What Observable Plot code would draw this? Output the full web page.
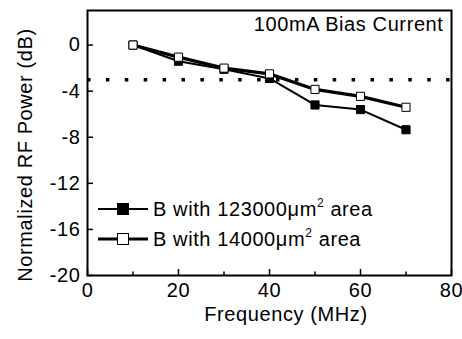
<!DOCTYPE html>
<html><head><meta charset="utf-8">
<script src="https://cdn.jsdelivr.net/npm/d3@7"></script>
<script src="https://cdn.jsdelivr.net/npm/@observablehq/plot@0.6"></script>
<style>
body{margin:0;background:#fff}
svg{font-family:"Liberation Sans",Arial,sans-serif}
</style>
</head><body><div id="chart"></div>
<script>
const freq = [10, 20, 30, 40, 50, 60, 70];
const seriesLarge = [0, -1.4, -2.1, -2.9, -5.2, -5.6, -7.35];   // 123000 um^2
const seriesSmall = [0, -1.05, -2.0, -2.5, -3.85, -4.45, -5.4]; // 14000 um^2
const areaValues = ["123000", "14000"];
const xTicks = [0, 20, 40, 60, 80];
const xMinorTicks = [10, 30, 50, 70];
const yTicks = [0, -4, -8, -12, -16, -20];
const thresholdDb = [-3];
const annotation = ["100mA Bias Current"];
const xLabel = "Frequency (MHz)";
const yLabel = "Normalized RF Power (dB)";

const W = 462, H = 339, mL = 87, mR = 11, mT = 10, mB = 64;
const frameW = W - mL - mR, frameH = H - mT - mB;

const dataLarge = freq.map((f, i) => ({f, v: seriesLarge[i]}));
const dataSmall = freq.map((f, i) => ({f, v: seriesSmall[i]}));

const plot = Plot.plot({
  width: W, height: H,
  marginLeft: mL, marginRight: mR, marginTop: mT, marginBottom: mB,
  style: {fontFamily: '"Liberation Sans", Arial, sans-serif', fontSize: "20px", background: "white", color: "black", letterSpacing: "0.6px"},
  x: {domain: [0, 80]},
  y: {domain: [-20, 3]},
  marks: [
    Plot.ruleY(thresholdDb, {stroke: "black", strokeWidth: 3.5, strokeDasharray: "3.5,15.4"}),
    Plot.line(dataLarge, {x: "f", y: "v", stroke: "black", strokeWidth: 2}),
    Plot.dot(dataLarge, {x: "f", y: "v", symbol: "square", r: 4.6, fill: "black", stroke: "black", strokeWidth: 1}),
    Plot.line(dataSmall, {x: "f", y: "v", stroke: "black", strokeWidth: 3.2}),
    Plot.dot(dataSmall, {x: "f", y: "v", symbol: "square", r: 4.6, fill: "white", stroke: "black", strokeWidth: 1}),
    // inward ticks
    Plot.ruleX(xTicks, {stroke: "black", strokeWidth: 1.5, insetTop: frameH - 6}),
    Plot.ruleX(xMinorTicks, {stroke: "black", strokeWidth: 1.5, insetTop: frameH - 3.5}),
    Plot.ruleY(yTicks, {stroke: "black", strokeWidth: 1.5, insetRight: frameW - 6}),
    Plot.axisX({ticks: xTicks, tickSize: 0, tickPadding: 7, tickFormat: d => `${d}`, label: null}),
    Plot.axisY({ticks: yTicks, tickSize: 0, tickPadding: 7, tickFormat: d => `${d}`, label: null}),
    Plot.frame({stroke: "black", strokeWidth: 2}),
    Plot.text(annotation, {text: d => d, frameAnchor: "top-right", textAnchor: "end", lineAnchor: "top", dx: -8, dy: 6, fontSize: 20, fill: "black"})
  ]
});
document.getElementById("chart").appendChild(plot);

const svg = d3.select(plot);
const txt = (sel) => sel.attr("font-size", 20).attr("letter-spacing", "0.6px").attr("fill", "black");

svg.append("text").call(txt)
  .attr("x", 286).attr("y", 321).attr("text-anchor", "middle").text(xLabel);
svg.append("text").call(txt)
  .attr("transform", "translate(32,155) rotate(-90)").attr("text-anchor", "middle").text(yLabel);

// legend
const legendStyles = [
  {fill: "black", width: 2},
  {fill: "white", width: 3.2}
];
areaValues.forEach((a, i) => {
  const y = 209 + 30 * i;
  const g = svg.append("g");
  g.append("line").attr("x1", 98).attr("x2", 148).attr("y1", y).attr("y2", y)
    .attr("stroke", "black").attr("stroke-width", legendStyles[i].width);
  g.append("rect").attr("x", 117.5).attr("y", y - 5.5).attr("width", 11).attr("height", 11)
    .attr("fill", legendStyles[i].fill).attr("stroke", "black").attr("stroke-width", 1);
  const t = g.append("text").call(txt).attr("text-anchor", "start")
    .attr("x", 153).attr("y", y + 7);
  t.append("tspan").text(`B with ${a}μm`);
  t.append("tspan").attr("font-size", 12).attr("dy", -9).text("2");
  t.append("tspan").attr("dy", 9).text(" area");
});
</script>
</body></html>
